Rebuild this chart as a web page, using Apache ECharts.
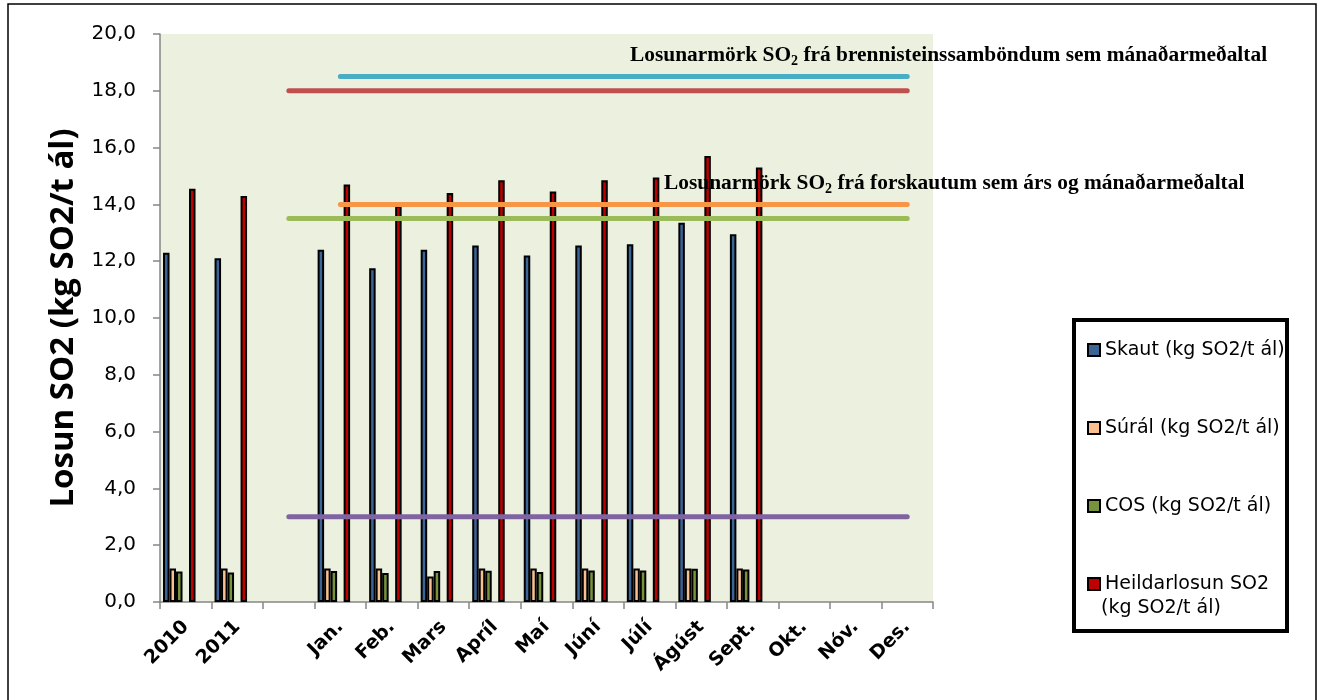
<!DOCTYPE html>
<html>
<head>
<meta charset="utf-8">
<script src="https://cdn.jsdelivr.net/npm/echarts@6/dist/echarts.min.js"></script>
<style>
  html, body { margin: 0; padding: 0; background: #fff; }
  #main { width: 1322px; height: 700px; }
</style>
</head>
<body>
<div id="main"></div>
<script>
// categories on the x axis (one blank slot between years and months)
var categories = ['2010', '2011', '', 'Jan.', 'Feb.', 'Mars', 'Apríl', 'Maí', 'Júní', 'Júlí', 'Ágúst', 'Sept.', 'Okt.', 'Nóv.', 'Des.'];

// bar values (kg SO2/t ál)
var skaut = [12.3, 12.1, null, 12.4, 11.75, 12.4, 12.55, 12.2, 12.55, 12.6, 13.35, 12.95, null, null, null];
var sural = [1.18, 1.18, null, 1.18, 1.18, 0.9, 1.18, 1.18, 1.18, 1.18, 1.18, 1.18, null, null, null];
var cos = [1.07, 1.04, null, 1.09, 1.02, 1.09, 1.1, 1.06, 1.11, 1.11, 1.17, 1.14, null, null, null];
var heild = [14.55, 14.3, null, 14.7, 13.95, 14.4, 14.85, 14.45, 14.85, 14.95, 15.7, 15.3, null, null, null];

// limit lines
var limitCyan = [null, null, null, 18.5, 18.5, 18.5, 18.5, 18.5, 18.5, 18.5, 18.5, 18.5, 18.5, 18.5, 18.5];
var limitRed = [null, null, 18, 18, 18, 18, 18, 18, 18, 18, 18, 18, 18, 18, 18];
var limitOrange = [null, null, null, 14, 14, 14, 14, 14, 14, 14, 14, 14, 14, 14, 14];
var limitGreen = [null, null, 13.5, 13.5, 13.5, 13.5, 13.5, 13.5, 13.5, 13.5, 13.5, 13.5, 13.5, 13.5, 13.5];
var limitPurple = [null, null, 3, 3, 3, 3, 3, 3, 3, 3, 3, 3, 3, 3, 3];

var empty = [null, null, null, null, null, null, null, null, null, null, null, null, null, null, null];

var yTicks = { min: 0, max: 20, interval: 2 };

var chart = echarts.init(document.getElementById('main'));

function bar(name, data, color) {
  return {
    name: name,
    type: 'bar',
    data: data,
    barWidth: 6.5,
    barGap: '0%',
    itemStyle: { color: color, borderColor: '#000', borderWidth: 2 },
    z: 2
  };
}

function limit(data, color) {
  return {
    type: 'line',
    data: data,
    showSymbol: false,
    symbol: 'none',
    lineStyle: { color: color, width: 5, cap: 'round' },
    z: 5
  };
}

var serif = 'Liberation Serif';
var sans = 'DejaVu Sans';

var option = {
  animation: false,
  backgroundColor: '#fff',
  grid: {
    left: 160, right: 389, top: 34, bottom: 98,
    show: true, backgroundColor: '#EBF1DE', borderWidth: 0
  },
  legend: {
    orient: 'vertical',
    left: 1082,
    top: 334,
    itemWidth: 12,
    itemHeight: 12,
    itemGap: 56,
    icon: 'rect',
    z: 10,
    data: ['Skaut (kg SO2/t ál)', 'Súrál (kg SO2/t ál)', 'COS (kg SO2/t ál)', 'Heildarlosun SO2 (kg SO2/t ál)'],
    formatter: function (n) {
      return n.indexOf('Heildarlosun') === 0 ? 'Heildarlosun SO2' : n;
    },
    textStyle: { fontFamily: sans, fontSize: 19, lineHeight: 22, color: '#000' }
  },
  xAxis: {
    type: 'category',
    data: categories,
    axisLine: { lineStyle: { color: '#868686', width: 1.5 } },
    axisTick: { show: true, interval: 0, length: 7, lineStyle: { color: '#868686', width: 1.5 } },
    axisLabel: {
      interval: 0, rotate: 45, margin: 22,
      fontFamily: sans, fontWeight: 'bold', fontSize: 19, color: '#000'
    }
  },
  yAxis: {
    type: 'value',
    min: yTicks.min, max: yTicks.max, interval: yTicks.interval,
    name: 'Losun SO2 (kg SO2/t ál)',
    nameLocation: 'middle',
    nameGap: 80,
    nameTextStyle: { fontFamily: 'Open Sans', fontWeight: 'bold', fontSize: 33, color: '#000' },
    axisLine: { show: true, lineStyle: { color: '#868686', width: 1.5 } },
    axisTick: { show: true, length: 7, lineStyle: { color: '#868686', width: 1.5 } },
    splitLine: { show: false },
    axisLabel: {
      margin: 24,
      fontFamily: sans, fontSize: 20, color: '#000',
      formatter: function (v) { return v.toFixed(1).replace('.', ','); }
    }
  },
  graphic: [
    {
      type: 'rect', z: 0,
      shape: { x: 8, y: 4, width: 1308, height: 720 },
      style: { fill: 'none', stroke: '#000', lineWidth: 1.5 }
    },
    {
      type: 'rect', z: 1,
      shape: { x: 1074, y: 320, width: 213, height: 311 },
      style: { fill: '#fff', stroke: '#000', lineWidth: 4 }
    },
    {
      type: 'text', z: 12, x: 1101, y: 608,
      style: {
        text: '(kg SO2/t ál)', fontFamily: sans, fontSize: 19, fill: '#000',
        textVerticalAlign: 'middle'
      }
    },
    {
      type: 'text', z: 12, x: 630, y: 55,
      style: {
        text: '{a|Losunarmörk SO}{s|2}{a| frá brennisteinssamböndum sem mánaðarmeðaltal}',
        textVerticalAlign: 'middle',
        rich: {
          a: { fontFamily: serif, fontWeight: 'bold', fontSize: 21.4, lineHeight: 26, fill: '#000' },
          s: { fontFamily: serif, fontWeight: 'bold', fontSize: 14, lineHeight: 14, verticalAlign: 'bottom', fill: '#000' }
        }
      }
    },
    {
      type: 'text', z: 12, x: 664, y: 183,
      style: {
        text: '{a|Losunarmörk SO}{s|2}{a| frá forskautum sem árs og mánaðarmeðaltal}',
        textVerticalAlign: 'middle',
        rich: {
          a: { fontFamily: serif, fontWeight: 'bold', fontSize: 21.4, lineHeight: 26, fill: '#000' },
          s: { fontFamily: serif, fontWeight: 'bold', fontSize: 14, lineHeight: 14, verticalAlign: 'bottom', fill: '#000' }
        }
      }
    }
  ],
  series: [
    bar('Skaut (kg SO2/t ál)', skaut, '#3B6497'),
    bar('Súrál (kg SO2/t ál)', sural, '#FAC090'),
    bar('COS (kg SO2/t ál)', cos, '#77933C'),
    bar('', empty, 'transparent'),
    bar('Heildarlosun SO2 (kg SO2/t ál)', heild, '#C00000'),
    bar(' ', empty, 'transparent'),
    bar('  ', empty, 'transparent'),
    limit(limitCyan, '#4BACC6'),
    limit(limitRed, '#C0504D'),
    limit(limitOrange, '#F79646'),
    limit(limitGreen, '#9BBB59'),
    limit(limitPurple, '#8064A2')
  ]
};

chart.setOption(option);
</script>
</body>
</html>
